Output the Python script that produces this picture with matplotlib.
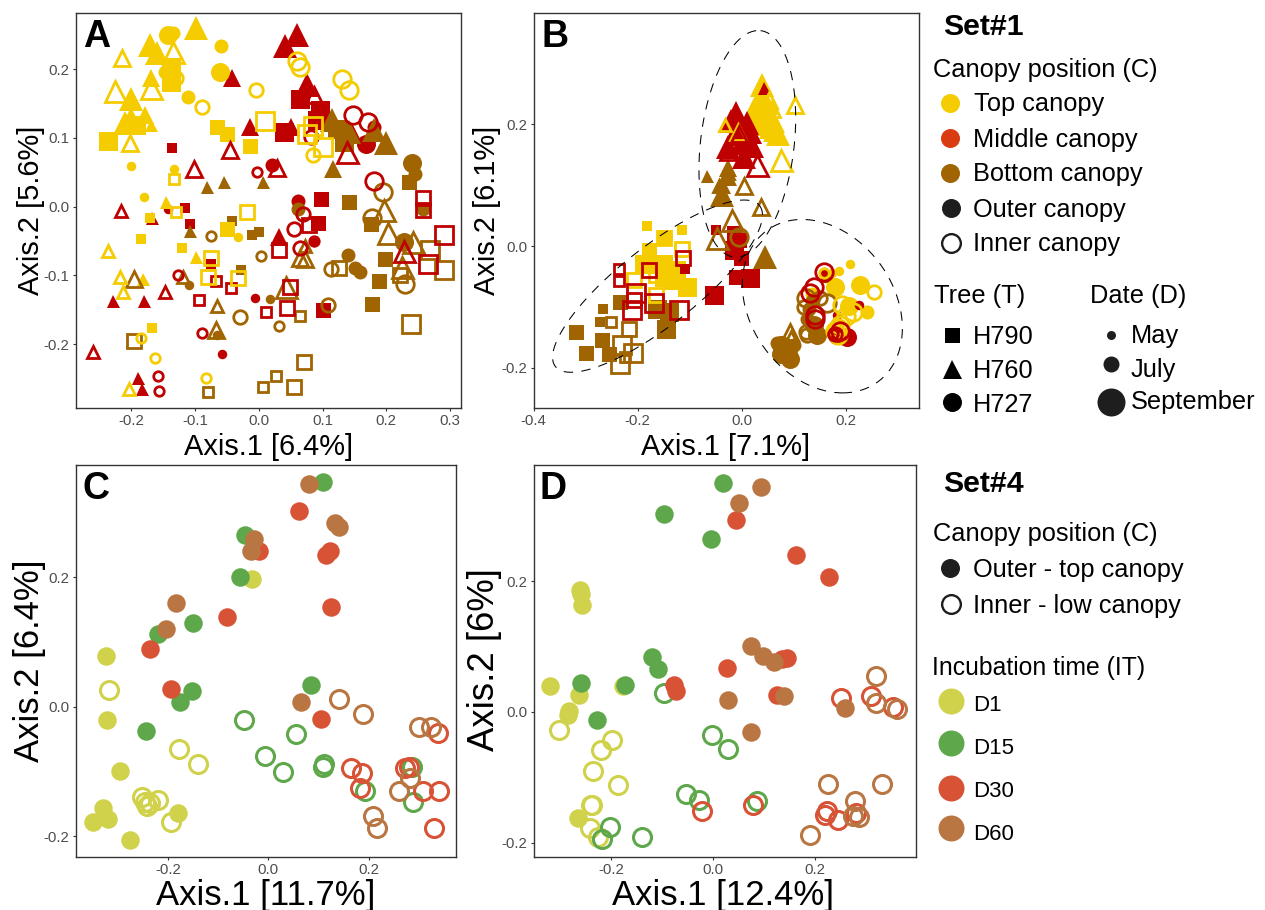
import numpy as np
import matplotlib
matplotlib.use("Agg")
import matplotlib.pyplot as plt

plt.rcParams['font.family'] = ['Liberation Sans', 'DejaVu Sans']
plt.rcParams['axes.unicode_minus'] = False

W, H = 1265, 910

TOP = '#F4CC00'
MID = '#BE0000'
BOT = '#A06400'
D1 = '#CFD24A'
D15 = '#5EA84B'
D30 = '#D85235'
D60 = '#B97643'
DARK = '#1E1E1E'

# Panel A. tree = how many H790, H760, H727 points; date = m/j/s per point
a_bot_outer_x = [0.122, 0.133, 0.142, 0.235, 0.176, 0.198, 0.188, 0.177, -0.042, -0.0105, 0.0005, -0.028,
                 0.117, 0.115, 0.142, 0.180, 0.199, -0.081, -0.055, 0.007, -0.108,
                 0.240, 0.245, 0.257, 0.228, 0.140, 0.151, 0.158, 0.062, -0.109, 0.017, -0.066]
a_bot_outer_y = [0.113, 0.094, 0.007, 0.035, -0.026, -0.077, -0.109, -0.142, -0.021, -0.042, -0.037, -0.093,
                 0.0545, 0.126, 0.109, 0.111, 0.093, 0.029, 0.035, 0.036, -0.035,
                 0.063, 0.048, -0.003, -0.051, -0.071, -0.090, -0.095, -0.003, -0.114, -0.134, -0.187]
a_bot_outer_tree = [12, 9, 11]
a_bot_outer_date = "ssjjjjjjmmmm" + "jssssmmmm" + "sjjsjjjjmmm"

a_mid_outer_x = [0.064, 0.096, 0.091, 0.039, -0.136, -0.116, 0.098, 0.0925, 0.101, -0.075, -0.107,
                 0.060, 0.041, -0.042, 0.075, -0.013, 0.050, 0.146, -0.229, -0.180, -0.190, -0.183, 0.031, -0.168,
                 0.021, 0.062, 0.180, 0.168, -0.142, -0.006, -0.058, 0.086]
a_mid_outer_y = [0.156, 0.141, 0.126, 0.108, 0.0855, -0.002, 0.0115, -0.024, -0.150, -0.084, -0.0255,
                 0.249, 0.234, 0.187, 0.177, 0.115, 0.116, 0.109, -0.138, -0.138, -0.249, -0.265, -0.044, -0.017,
                 0.060, 0.0085, 0.116, 0.0905, -0.004, -0.133, -0.214, -0.051]
a_mid_outer_tree = [11, 13, 8]
a_mid_outer_date = "ssssmmjjjmm" + "ssjsjjjmmmmjm" + "jjjsmmmm"

a_top_outer_x = [-0.236, -0.193, -0.138, -0.138, -0.066, -0.049, -0.013, -0.184, -0.120, -0.170, -0.167, -0.050,
                 -0.098, -0.171, -0.159, -0.200, -0.210, -0.200, -0.179, -0.169, -0.169, -0.145, -0.098, -0.182,
                 -0.142, -0.134, -0.059, -0.061, -0.147, -0.111, -0.200, -0.133, -0.180, -0.033]
a_top_outer_y = [0.096, 0.119, 0.203, 0.181, 0.115, 0.106, 0.0875, -0.047, -0.060, -0.016, -0.176, -0.032,
                 0.259, 0.235, 0.223, 0.157, 0.121, 0.128, 0.133, 0.187, 0.118, 0.007, -0.073, -0.106,
                 0.249, 0.253, 0.234, 0.195, 0.196, 0.160, 0.059, 0.055, 0.014, -0.044]
a_top_outer_tree = [12, 12, 10]
a_top_outer_date = "ssssjjjmmmmj" + "ssssssjjmmmm" + "sjjsjjmmmm"

a_bot_inner_x = [0.268, 0.290, 0.222, 0.126, 0.238, 0.064, -0.196, -0.079, 0.071, 0.027, 0.006, 0.056,
                 0.197, 0.203, 0.241, 0.224, 0.072, 0.065, 0.073, 0.042, -0.119, -0.195, -0.066, -0.067,
                 0.195, 0.177, 0.114, 0.229, -0.075, 0.004, -0.029, 0.108, 0.031]
a_bot_inner_y = [-0.063, -0.092, -0.100, -0.090, -0.171, -0.159, -0.196, -0.270, -0.226, -0.247, -0.262, -0.263,
                 -0.005, -0.039, -0.051, -0.088, -0.058, -0.075, -0.076, -0.117, -0.102, -0.106, -0.144, -0.180,
                 0.0215, -0.016, -0.091, -0.113, -0.043, -0.072, -0.160, -0.143, -0.174]
a_bot_inner_tree = [12, 12, 9]
a_bot_inner_date = "ssjjsmjmjmmj" + "ssssmjjsmjmj" + "ssjsmmjjm"

a_mid_inner_x = [0.257, 0.258, 0.291, 0.266, 0.031, 0.079, -0.067, -0.044, -0.093, 0.049, 0.045, 0.012,
                 0.086, -0.045, -0.102, 0.029, 0.138, -0.216, -0.147, -0.259, 0.227,
                 0.148, 0.171, 0.082, -0.003, 0.180, 0.070, 0.055, 0.065, -0.126, -0.089, -0.158, -0.157, 0.086]
a_mid_inner_y = [0.012, -0.005, -0.041, -0.083, -0.063, -0.027, -0.108, -0.118, -0.136, -0.117, -0.148, -0.154,
                 0.162, 0.082, 0.0545, 0.0555, 0.080, -0.0065, -0.125, -0.212, -0.064,
                 0.133, 0.123, 0.1015, 0.0505, 0.037, -0.0115, -0.033, -0.060, -0.099, -0.184, -0.247, -0.269, -0.050]
a_mid_inner_tree = [12, 9, 13]
a_mid_inner_date = "jjssjjmmmjjm" + "jjjjsmmms" + "ssjmsjjjmmmmm"

a_top_inner_x = [0.010, 0.085, 0.076, 0.101, -0.133, -0.130, -0.019, -0.075, -0.080, -0.033,
                 -0.214, -0.134, -0.225, -0.169, -0.202, -0.237, -0.217, -0.213, -0.204,
                 0.060, 0.064, 0.130, 0.141, -0.004, -0.089, -0.129, 0.085, -0.185, -0.162, -0.082]
a_top_inner_y = [0.124, 0.1175, 0.105, 0.087, 0.040, -0.0075, -0.0085, -0.0745, -0.103, -0.104,
                 0.2155, 0.225, 0.168, 0.172, 0.092, -0.064, -0.103, -0.124, -0.266,
                 0.2115, 0.203, 0.186, 0.170, 0.170, 0.145, 0.187, 0.075, -0.191, -0.220, -0.249]
a_top_inner_tree = [10, 9, 11]
a_top_inner_date = "ssssmmjjjj" + "jsssjmmmm" + "ssssjjjjmmm"

# Panel B
b_bot_outer_x = [-0.319, -0.300, -0.267, -0.273, -0.269, -0.254, -0.233, -0.163, -0.146, -0.139,
                 -0.066, -0.027, -0.027, -0.037, -0.037, 0.045,
                 0.068, 0.081, 0.093, 0.075, 0.100, 0.145, 0.129, 0.161,
                 0.075, 0.085, 0.090, 0.125, 0.140, 0.135]
b_bot_outer_y = [-0.141, -0.175, -0.103, -0.125, -0.154, -0.177, -0.092, -0.103, -0.137, -0.108,
                 0.116, 0.128, 0.114, 0.100, 0.084, -0.018,
                 -0.159, -0.166, -0.185, -0.177, -0.163, -0.146, -0.103, -0.053,
                 -0.163, -0.175, -0.170, -0.120, -0.130, -0.090]
b_bot_outer_tree = [10, 6, 14]
b_bot_outer_date = "jjmmjjjsss" + "mjjjss" + "jsssjsjm" + "sssjsj"

b_mid_outer_x = [-0.050, -0.015, -0.005, -0.015, -0.002, -0.011, 0.016, -0.053, -0.109,
                 -0.011, 0.011, -0.008, 0.017, -0.027, 0.004, -0.008, 0.043, 0.000, -0.020, 0.020,
                 0.202, 0.183, 0.158, 0.225, 0.183]
b_mid_outer_y = [0.026, 0.021, 0.010, -0.007, -0.020, -0.050, -0.052, -0.081, -0.037,
                 0.218, 0.202, 0.191, 0.188, 0.163, 0.147, 0.180, 0.259, 0.170, 0.205, 0.165,
                 -0.149, -0.146, -0.042, -0.097, -0.113]
b_mid_outer_tree = [9, 11, 5]
b_mid_outer_date = "mjjsjjssm" + "ssssssjmsss" + "ssmmm"

b_top_outer_x = [-0.181, -0.115, -0.149, -0.178, -0.187, -0.152, -0.136, -0.104, -0.149, -0.126,
                 0.040, 0.033, 0.056, 0.065, 0.043, 0.024, 0.046, 0.070, 0.060, 0.030,
                 0.208, 0.188, 0.174, 0.227, 0.180, 0.206, 0.241, 0.135]
b_top_outer_y = [0.033, 0.026, 0.015, -0.007, -0.029, -0.029, -0.056, -0.067, -0.050, -0.039,
                 0.265, 0.240, 0.196, 0.191, 0.213, 0.224, 0.235, 0.185, 0.205, 0.200,
                 -0.029, -0.041, -0.045, -0.064, -0.068, -0.098, -0.108, -0.078]
b_top_outer_tree = [10, 10, 8]
b_top_outer_date = "mmjjssssss" + "ssssssssss" + "mmmsssjj"

b_bot_inner_x = [-0.251, -0.217, -0.230, -0.209, -0.233, -0.225,
                 0.004, 0.038, -0.019, -0.048, -0.027, -0.043, 0.093, 0.094,
                 0.123, 0.164, 0.123, 0.126, -0.005, 0.120, 0.150]
b_bot_inner_y = [-0.124, -0.137, -0.163, -0.175, -0.193, -0.182,
                 0.098, 0.065, 0.043, 0.013, 0.120, 0.098, -0.141, -0.149,
                 -0.086, -0.094, -0.141, -0.146, 0.015, -0.100, -0.085]
b_bot_inner_tree = [6, 8, 7]
b_bot_inner_date = "mjsssm" + "jjssmmjm" + "ssjjsjj"

b_mid_inner_x = [-0.112, -0.236, -0.235, -0.178, -0.203, -0.168, -0.120, -0.211, -0.206,
                 0.029, -0.005, -0.027,
                 0.132, 0.139, 0.142, 0.142, 0.180, 0.158, 0.175, 0.190]
b_mid_inner_y = [-0.020, -0.037, -0.057, -0.039, -0.077, -0.093, -0.105, -0.105, -0.089,
                 0.133, 0.185, 0.155,
                 -0.077, -0.067, -0.113, -0.119, -0.144, -0.042, -0.145, -0.140]
b_mid_inner_tree = [9, 3, 8]
b_mid_inner_date = "jmmjssssj" + "sjj" + "ssssjsmss"[:8]

b_top_inner_x = [-0.149, -0.114, -0.206, -0.168, -0.165,
                 0.103, 0.052, 0.059, 0.076, -0.031, -0.007,
                 0.255, 0.158, 0.193, 0.186, 0.186, 0.215, 0.190, 0.200, 0.180]
b_top_inner_y = [0.013, -0.004, -0.056, -0.050, -0.081,
                 0.232, 0.240, 0.226, 0.141, 0.199, 0.188,
                 -0.076, -0.045, -0.097, -0.135, -0.146, -0.108, -0.130, -0.115, -0.140]
b_top_inner_tree = [5, 6, 9]
b_top_inner_date = "jjjmj" + "jjjsmj" + "jmsssssss"

# ellipses of panel B: centre and two half-axis vectors
ell_cx = [0.011, -0.1616, 0.1552]
ell_cy = [0.168, -0.0658, -0.0987]
ell_ux = [0.0255, 0.1967, 0.039]
ell_uy = [0.186, 0.1316, -0.1425]
ell_vx = [0.0894, 0.0447, 0.1488]
ell_vy = [-0.0088, -0.0521, 0.0]

# Panel C
c_d1_outer_x = [-0.324, -0.321, -0.295, -0.330, -0.320, -0.350, -0.275, -0.179, -0.032]
c_d1_outer_y = [0.078, -0.020, -0.099, -0.156, -0.174, -0.179, -0.206, -0.165, 0.197]
c_d1_inner_x = [-0.318, -0.177, -0.141, -0.252, -0.220, -0.245, -0.235, -0.242, -0.193]
c_d1_inner_y = [0.026, -0.065, -0.089, -0.140, -0.144, -0.147, -0.149, -0.153, -0.178]
c_d15_outer_x = [0.109, -0.046, -0.056, -0.150, -0.220, -0.153, -0.176, -0.244, 0.085]
c_d15_outer_y = [0.347, 0.265, 0.2005, 0.130, 0.113, 0.025, 0.007, -0.038, 0.033]
c_d15_inner_x = [-0.048, 0.055, -0.007, 0.029, 0.111, 0.109, 0.192, 0.285, 0.288]
c_d15_inner_y = [-0.021, -0.042, -0.076, -0.101, -0.088, -0.093, -0.131, -0.093, -0.147]
c_d30_outer_x = [0.061, -0.018, -0.082, 0.123, 0.115, 0.125, -0.235, -0.194, 0.105]
c_d30_outer_y = [0.303, 0.240, 0.138, 0.240, 0.235, 0.154, 0.089, 0.027, -0.019]
c_d30_inner_x = [0.165, 0.186, 0.182, 0.279, 0.272, 0.307, 0.340, 0.337, 0.329]
c_d30_inner_y = [-0.095, -0.103, -0.125, -0.093, -0.095, -0.130, -0.130, -0.041, -0.188]
c_d60_outer_x = [0.081, 0.133, 0.140, -0.029, -0.035, -0.184, -0.203, 0.064]
c_d60_outer_y = [0.345, 0.2835, 0.278, 0.259, 0.241, 0.160, 0.120, 0.007]
c_d60_inner_x = [0.141, 0.188, 0.300, 0.324, 0.282, 0.260, 0.209, 0.216]
c_d60_inner_y = [0.012, -0.012, -0.031, -0.032, -0.111, -0.131, -0.169, -0.188]

# Panel D
d_d1_outer_x = [-0.261, -0.260, -0.257, -0.320, -0.263, -0.283, -0.285, -0.177, -0.265]
d_d1_outer_y = [0.187, 0.181, 0.164, 0.039, 0.0255, 0.002, -0.005, 0.039, -0.162]
d_d1_inner_x = [-0.303, -0.198, -0.220, -0.236, -0.187, -0.238, -0.240, -0.243, -0.227]
d_d1_inner_y = [-0.028, -0.043, -0.058, -0.091, -0.112, -0.142, -0.143, -0.178, -0.191]
d_d15_outer_x = [0.020, -0.096, -0.005, -0.121, -0.109, -0.259, -0.173, -0.229]
d_d15_outer_y = [0.351, 0.303, 0.265, 0.084, 0.066, 0.044, 0.041, -0.012]
d_d15_inner_x = [-0.097, -0.002, 0.028, 0.085, -0.054, -0.029, -0.203, -0.218, -0.140]
d_d15_inner_y = [0.029, -0.036, -0.056, -0.136, -0.126, -0.135, -0.176, -0.195, -0.192]
d_d30_outer_x = [0.044, 0.162, 0.228, 0.144, 0.134, 0.027, -0.077, -0.073, 0.126]
d_d30_outer_y = [0.294, 0.240, 0.207, 0.083, 0.081, 0.068, 0.041, 0.032, 0.0255]
d_d30_inner_x = [0.251, 0.310, 0.352, 0.077, -0.022, 0.224, 0.219, 0.245, 0.280]
d_d30_inner_y = [0.021, 0.024, 0.007, -0.143, -0.151, -0.151, -0.157, -0.165, -0.154]
d_d60_outer_x = [0.094, 0.050, 0.075, 0.098, 0.120, 0.028, 0.139, 0.259, 0.074]
d_d60_outer_y = [0.345, 0.320, 0.1005, 0.085, 0.077, 0.019, 0.025, 0.006, -0.031]
d_d60_inner_x = [0.320, 0.320, 0.360, 0.226, 0.331, 0.278, 0.190, 0.274, 0.286]
d_d60_inner_y = [0.055, 0.013, 0.005, -0.110, -0.111, -0.137, -0.188, -0.160, -0.161]

FILLED_PX = {'s': {'m': 10, 'j': 15, 's': 19},
             '^': {'m': 13, 'j': 18, 's': 24},
             'o': {'m': 9.5, 'j': 14, 's': 19}}
OPEN_PX = {'s': {'m': 10.5, 'j': 14.5, 's': 18},
           '^': {'m': 12, 'j': 16, 's': 21},
           'o': {'m': 9.5, 'j': 13.5, 's': 17.5}}
PX = 0.72


def make_axes(left, right, top, bottom, xlim, ylim, xticks, yticks):
    ax = fig.add_axes([left / W, 1 - bottom / H, (right - left) / W, (bottom - top) / H])
    ax.set_xlim(xlim)
    ax.set_ylim(ylim)
    ax.set_xticks(xticks)
    ax.set_yticks(yticks)
    ax.set_xticklabels(['%.1f' % t for t in xticks])
    ax.set_yticklabels(['%.1f' % t for t in yticks])
    ax.tick_params(labelsize=10.8, labelcolor='#4D4D4D', color='#333333', length=2.5, width=0.8, pad=2)
    for s in ax.spines.values():
        s.set_color('#333333')
        s.set_linewidth(1.0)
    return ax


def labels(ax, box, xl, yl, xsize, ysize, xl_px, yl_px):
    left, right, top, bottom = box
    ax.set_xlabel(xl, fontsize=xsize, color='black')
    ax.set_ylabel(yl, fontsize=ysize, color='black')
    ax.xaxis.set_label_coords((xl_px[0] - left) / (right - left), (bottom - xl_px[1]) / (bottom - top))
    ax.yaxis.set_label_coords((yl_px[0] - left) / (right - left), (bottom - yl_px[1]) / (bottom - top))
    ax.xaxis.label.set_va('center')
    ax.yaxis.label.set_va('center')


def canopy_points(ax, x, y, tree, date, color, inner):
    assert len(x) == len(y) == len(date) == sum(tree), (len(x), len(y), len(date), sum(tree))
    marks = 's' * tree[0] + '^' * tree[1] + 'o' * tree[2]
    for px, py, m, d in zip(x, y, marks, date):
        if inner:
            ax.plot(px, py, m, mfc='none', mec=color, mew=2.0, ms=OPEN_PX[m][d] * PX, clip_on=False)
        else:
            ax.plot(px, py, m, mfc=color, mew=0, ms=FILLED_PX[m][d] * PX, clip_on=False)


def rings(ax, x, y, color, inner):
    if inner:
        ax.plot(x, y, 'o', mfc='none', mec=color, mew=2.2, ms=18 * PX)
    else:
        ax.plot(x, y, 'o', mfc=color, mew=0, ms=18.5 * PX)


fig = plt.figure(figsize=(W / 100, H / 100), dpi=100, facecolor='white')

box_a = (76, 461, 13, 408)
box_b = (533.5, 919, 13, 408)
box_c = (76, 456, 465, 857)
box_d = (533.5, 916, 465, 857)

ax_a = make_axes(*box_a, (-0.2864, 0.317), (-0.293, 0.2815),
                 [-0.2, -0.1, 0.0, 0.1, 0.2, 0.3], [-0.2, -0.1, 0.0, 0.1, 0.2])
ax_b = make_axes(*box_b, (-0.3975, 0.341), (-0.266, 0.383),
                 [-0.4, -0.2, 0.0, 0.2], [-0.2, 0.0, 0.2])
ax_c = make_axes(*box_c, (-0.383, 0.3735), (-0.2324, 0.3737),
                 [-0.2, 0.0, 0.2], [-0.2, 0.0, 0.2])
ax_d = make_axes(*box_d, (-0.353, 0.398), (-0.222, 0.378),
                 [-0.2, 0.0, 0.2], [-0.2, 0.0, 0.2])

labels(ax_a, box_a, 'Axis.1 [6.4%]', 'Axis.2 [5.6%]', 20.9, 20.9, (269, 447), (31, 210))
labels(ax_b, box_b, 'Axis.1 [7.1%]', 'Axis.2 [6.1%]', 20.9, 20.9, (726, 447), (487, 210))
labels(ax_c, box_c, 'Axis.1 [11.7%]', 'Axis.2 [6.4%]', 25, 25, (266, 896), (29, 661))
labels(ax_d, box_d, 'Axis.1 [12.4%]', 'Axis.2 [6%]', 25, 26.3, (723, 896), (485, 660))

canopy_points(ax_a, a_mid_outer_x, a_mid_outer_y, a_mid_outer_tree, a_mid_outer_date, MID, False)
canopy_points(ax_a, a_bot_outer_x, a_bot_outer_y, a_bot_outer_tree, a_bot_outer_date, BOT, False)
canopy_points(ax_a, a_top_outer_x, a_top_outer_y, a_top_outer_tree, a_top_outer_date, TOP, False)
canopy_points(ax_a, a_bot_inner_x, a_bot_inner_y, a_bot_inner_tree, a_bot_inner_date, BOT, True)
canopy_points(ax_a, a_mid_inner_x, a_mid_inner_y, a_mid_inner_tree, a_mid_inner_date, MID, True)
canopy_points(ax_a, a_top_inner_x, a_top_inner_y, a_top_inner_tree, a_top_inner_date, TOP, True)

canopy_points(ax_b, b_top_outer_x, b_top_outer_y, b_top_outer_tree, b_top_outer_date, TOP, False)
canopy_points(ax_b, b_bot_outer_x, b_bot_outer_y, b_bot_outer_tree, b_bot_outer_date, BOT, False)
canopy_points(ax_b, b_mid_outer_x, b_mid_outer_y, b_mid_outer_tree, b_mid_outer_date, MID, False)
canopy_points(ax_b, b_bot_inner_x, b_bot_inner_y, b_bot_inner_tree, b_bot_inner_date, BOT, True)
canopy_points(ax_b, b_top_inner_x, b_top_inner_y, b_top_inner_tree, b_top_inner_date, TOP, True)
canopy_points(ax_b, b_mid_inner_x, b_mid_inner_y, b_mid_inner_tree, b_mid_inner_date, MID, True)

t = np.linspace(0, 2 * np.pi, 200)
for i in range(3):
    ax_b.plot(ell_cx[i] + ell_ux[i] * np.cos(t) + ell_vx[i] * np.sin(t),
              ell_cy[i] + ell_uy[i] * np.cos(t) + ell_vy[i] * np.sin(t),
              color='black', lw=0.75, dashes=(9, 8))

rings(ax_c, c_d1_outer_x, c_d1_outer_y, D1, False)
rings(ax_c, c_d1_inner_x, c_d1_inner_y, D1, True)
rings(ax_c, c_d15_outer_x, c_d15_outer_y, D15, False)
rings(ax_c, c_d15_inner_x, c_d15_inner_y, D15, True)
rings(ax_c, c_d30_outer_x, c_d30_outer_y, D30, False)
rings(ax_c, c_d30_inner_x, c_d30_inner_y, D30, True)
rings(ax_c, c_d60_outer_x, c_d60_outer_y, D60, False)
rings(ax_c, c_d60_inner_x, c_d60_inner_y, D60, True)

rings(ax_d, d_d1_outer_x, d_d1_outer_y, D1, False)
rings(ax_d, d_d1_inner_x, d_d1_inner_y, D1, True)
rings(ax_d, d_d15_outer_x, d_d15_outer_y, D15, False)
rings(ax_d, d_d15_inner_x, d_d15_inner_y, D15, True)
rings(ax_d, d_d30_outer_x, d_d30_outer_y, D30, False)
rings(ax_d, d_d30_inner_x, d_d30_inner_y, D30, True)
rings(ax_d, d_d60_outer_x, d_d60_outer_y, D60, False)
rings(ax_d, d_d60_inner_x, d_d60_inner_y, D60, True)

# legends and letters go on one overlay in pixel units
ov = fig.add_axes([0, 0, 1, 1], facecolor='none')
ov.set_xlim(0, W)
ov.set_ylim(H, 0)
ov.axis('off')

for letter, lx, ly in [('A', 83, 47), ('B', 541, 47), ('C', 82, 499), ('D', 539, 499)]:
    ov.text(lx, ly, letter, fontsize=27, fontweight='bold', va='baseline', ha='left')


def ltext(x, y, s, size=18.3, weight='normal'):
    ov.text(x, y, s, fontsize=size, fontweight=weight, va='center_baseline', ha='left', color='black')


def lmark(x, y, m, d, color, inner=False):
    if inner:
        ov.plot(x, y, m, mfc='white', mec=color, mew=1.7, ms=(d - 2.3) * PX)
    else:
        ov.plot(x, y, m, mfc=color, mew=0, ms=d * PX)


ltext(943, 24, 'Set#1', 21.8, 'bold')
ltext(933, 67, 'Canopy position (C)')
ltext(974, 102, 'Top canopy')
ltext(973, 137, 'Middle canopy')
ltext(973, 172, 'Bottom canopy')
ltext(973, 207, 'Outer canopy')
ltext(973, 242, 'Inner canopy')
lmark(950, 103, 'o', 19, '#F4CC00')
lmark(950, 138, 'o', 19, '#D83C10')
lmark(950, 173, 'o', 19, BOT)
lmark(951, 208, 'o', 19, DARK)
lmark(951, 243, 'o', 21, DARK, True)

ltext(934, 293, 'Tree (T)')
ltext(1090, 293, 'Date (D)')
ltext(973, 335, 'H790')
ltext(973, 369, 'H760')
ltext(973, 402, 'H727')
lmark(952, 335, 's', 15, 'black')
lmark(952, 369, '^', 19, 'black')
lmark(952, 402, 'o', 19, 'black')
ltext(1131, 334, 'May')
ltext(1131, 367, 'July')
ltext(1131, 400, 'September')
lmark(1111, 335, 'o', 9, DARK)
lmark(1111, 364, 'o', 16, DARK)
lmark(1111, 402, 'o', 28, DARK)

ltext(943, 481, 'Set#4', 21.8, 'bold')
ltext(933, 532, 'Canopy position (C)')
ltext(973, 568, 'Outer - top canopy')
ltext(973, 603, 'Inner - low canopy')
lmark(950, 568, 'o', 19, DARK)
lmark(951, 604, 'o', 21, DARK, True)

ltext(932, 666, 'Incubation time (IT)', 17.8)
ltext(973, 703, 'D1', 16)
ltext(973, 746, 'D15', 16)
ltext(973, 789, 'D30', 16)
ltext(973, 832, 'D60', 16)
lmark(951, 701, 'o', 26, D1)
lmark(951, 743, 'o', 26, D15)
lmark(951, 788, 'o', 26, D30)
lmark(951, 828, 'o', 26, D60)

fig.savefig('out.png', dpi=100)
